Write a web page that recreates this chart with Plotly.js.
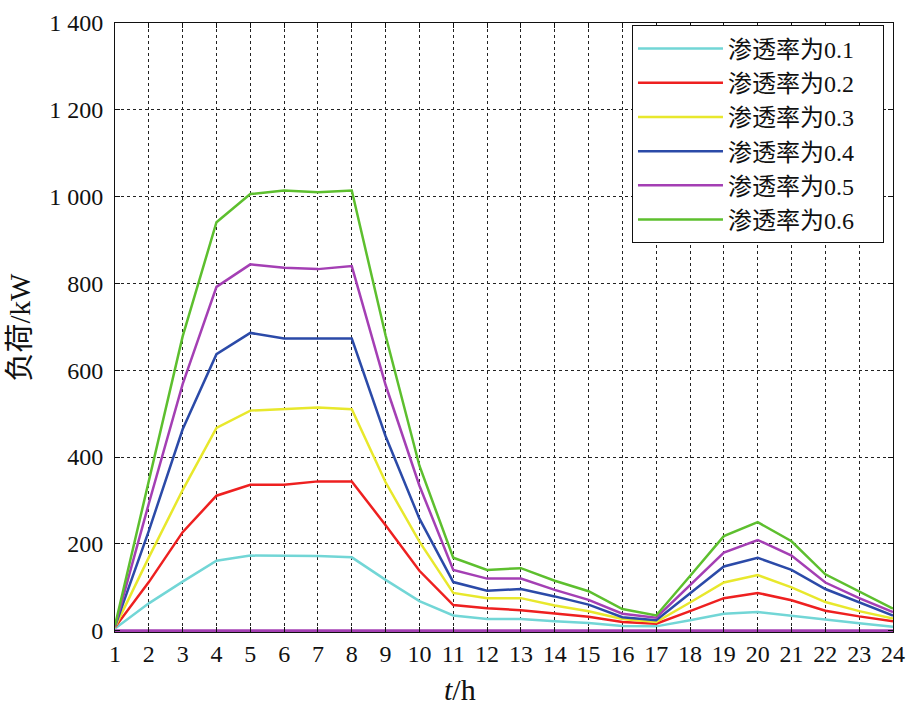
<!DOCTYPE html>
<html>
<head>
<meta charset="utf-8">
<script src="https://cdn.plot.ly/plotly-3.0.1.min.js"></script>
<style>html,body{margin:0;padding:0;background:#fff;}#chart{width:917px;height:717px;}</style>
</head>
<body>
<div id="chart"></div>
<script>
const hours = [1,2,3,4,5,6,7,8,9,10,11,12,13,14,15,16,17,18,19,20,21,22,23,24];
const namePrefix = "渗透率为";
const rates = ["0.1","0.2","0.3","0.4","0.5","0.6"];
const p01 = [5,63,113,161,173,172,172,169,117,68,35,27,27,22,18,11,10,24,39,43,34,26,17,9];
const p02 = [8,112,227,311,336,336,344,344,243,138,59,52,47,40,32,20,16,45,75,87,70,46,33,22];
const p03 = [8,169,324,467,507,510,514,510,342,205,87,75,75,58,45,27,20,65,111,128,100,66,45,28];
const p04 = [10,230,464,637,686,673,673,673,448,258,112,92,96,79,60,31,24,86,148,168,140,96,65,35];
const p05 = [10,293,568,792,844,836,833,840,566,334,140,120,120,94,71,39,30,105,180,209,173,111,75,43];
const p06 = [12,347,678,941,1006,1014,1010,1014,680,380,168,140,144,115,91,50,35,126,218,250,206,130,90,51];
const baseline = [0,0,0,0,0,0,0,0,0,0,0,0,0,0,0,0,0,0,0,0,0,0,0,0];
const yTickVals = [0,200,400,600,800,1000,1200,1400];
const yTickText = ["0","200","400","600","800","1 000","1 200","1 400"];
const xTitle = "<i>t</i>/h";
const yTitleCJK = "负荷";
const yTitleUnit = "/kW";

const serif = "Liberation Serif";
const withSerif = s => "<span style=\"font-family:'" + serif + "'\">" + s + "</span>";
const legendPad = "\u00a0\u00a0\u00a0\u00a0";

const colors = ["#72d6d6","#ee2020","#e8e82c","#2b4aa8","#a43fb4","#5dbf2e"];
const allSeries = [p01,p02,p03,p04,p05,p06];

const traces = allSeries.map((s,i)=>({
  x: hours, y: s, type: "scatter", mode: "lines",
  name: namePrefix + withSerif(rates[i] + legendPad),
  line: {color: colors[i], width: 2.5}
}));
traces.push({x: hours, y: baseline, type: "scatter", mode: "lines", showlegend: false,
  line: {color: "#a43fb4", width: 3}});

const fontFam = "Liberation Serif, Times New Roman, Noto Sans CJK SC, serif";
const layout = {
  width: 917, height: 717,
  margin: {l: 115, r: 24, t: 23, b: 85},
  paper_bgcolor: "#fff", plot_bgcolor: "#fff",
  font: {family: fontFam, color: "#111", size: 24},
  showlegend: true,
  legend: {x: 0.6645, y: 0.996, xanchor: "left", yanchor: "top",
    bgcolor: "#fff", bordercolor: "#111", borderwidth: 1, itemwidth: 85,
    font: {family: fontFam, size: 24, color: "#111"}},
  xaxis: {
    range: [1,24], tickmode: "array", tickvals: hours, ticktext: hours.map(String),
    showgrid: true, gridcolor: "#222", griddash: "dot", gridwidth: 1,
    showline: true, linecolor: "#111", linewidth: 1, mirror: "ticks",
    ticks: "inside", ticklen: 5, tickcolor: "#111", zeroline: false,
    tickfont: {size: 24}
  },
  yaxis: {
    range: [-3,1400], tickmode: "array", tickvals: yTickVals, ticktext: yTickText,
    showgrid: true, gridcolor: "#222", griddash: "dot", gridwidth: 1,
    showline: true, linecolor: "#111", linewidth: 1, mirror: "ticks",
    ticks: "inside", ticklen: 5, tickcolor: "#111", zeroline: false,
    tickfont: {size: 24}, ticklabelstandoff: 6,
    title: {text: yTitleCJK + withSerif(yTitleUnit), font: {size: 29}, standoff: 10}
  },
  annotations: [{
    text: xTitle, xref: "paper", yref: "paper", x: 0.4434, y: -0.095,
    xanchor: "center", yanchor: "middle", showarrow: false,
    font: {family: fontFam, size: 30, color: "#111"}
  }]
};
Plotly.newPlot("chart", traces, layout, {displayModeBar: false, staticPlot: true});
</script>
</body>
</html>
